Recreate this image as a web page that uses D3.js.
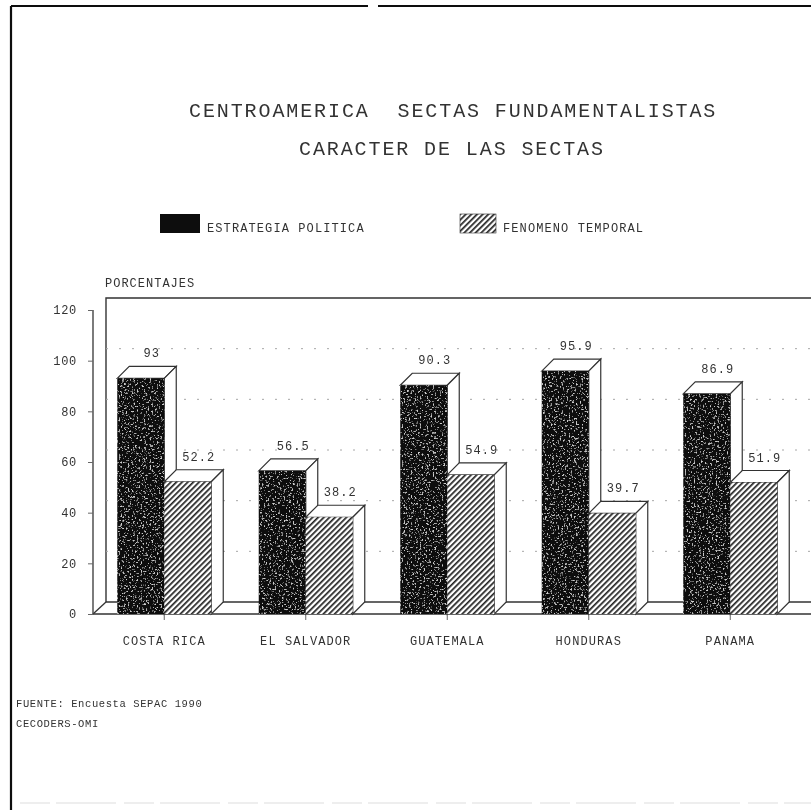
<!DOCTYPE html>
<html>
<head>
<meta charset="utf-8">
<script src="https://cdn.jsdelivr.net/npm/d3@7"></script>
<style>
  html, body { margin: 0; background: #fff; overflow: hidden; }
  text { font-family: "Liberation Mono", monospace; fill: #333; }
  .grid line { stroke: #a8a8a8; stroke-dasharray: 2 11; }
  .yaxis .domain, .xaxis .domain { display: none; }
  .yaxis line, .xaxis line { stroke: #666; }
</style>
</head>
<body>
<svg id="chart" width="811" height="810"></svg>
<script>
const categories = ['COSTA RICA', 'EL SALVADOR', 'GUATEMALA', 'HONDURAS', 'PANAMA'];
const seriesNames = ['ESTRATEGIA POLITICA', 'FENOMENO TEMPORAL'];
const politica = [93, 56.5, 90.3, 95.9, 86.9];
const temporal = [52.2, 38.2, 54.9, 39.7, 51.9];
const politicaLabels = ['93', '56.5', '90.3', '95.9', '86.9'];
const temporalLabels = ['52.2', '38.2', '54.9', '39.7', '51.9'];
const yTicks = [0, 20, 40, 60, 80, 100, 120];
const titleLines = ['CENTROAMERICA  SECTAS FUNDAMENTALISTAS', 'CARACTER DE LAS SECTAS'];
const sourceLines = ['FUENTE: Encuesta SEPAC 1990', 'CECODERS-OMI'];

const width = 811, height = 810;
const depth = 12;
const axisX = 93, floorY = 614, topY = 310;

const svg = d3.select('#chart');
const defs = svg.append('defs');

// scan look: soft blur over everything
defs.append('filter').attr('id', 'scan').attr('filterUnits', 'userSpaceOnUse')
  .attr('x', 0).attr('y', 0).attr('width', width).attr('height', height)
  .append('feGaussianBlur').attr('stdDeviation', 0.55);

// speckled toner for the dark bars
const speck = defs.append('filter').attr('id', 'speck').attr('x', 0).attr('y', 0).attr('width', 1).attr('height', 1);
speck.append('feTurbulence').attr('type', 'fractalNoise').attr('baseFrequency', 0.55).attr('numOctaves', 2).attr('seed', 4).attr('result', 'n');
speck.append('feColorMatrix').attr('in', 'n').attr('type', 'matrix')
  .attr('values', '0 0 0 0 0.62  0 0 0 0 0.62  0 0 0 0 0.62  6 0 0 0 -3.5').attr('result', 'dots');
speck.append('feComposite').attr('in', 'dots').attr('in2', 'SourceAlpha').attr('operator', 'in').attr('result', 'clipped');
const speckMerge = speck.append('feMerge');
speckMerge.append('feMergeNode').attr('in', 'SourceGraphic');
speckMerge.append('feMergeNode').attr('in', 'clipped');

const hatch = defs.append('pattern').attr('id', 'hatch').attr('patternUnits', 'userSpaceOnUse')
  .attr('width', 4).attr('height', 4).attr('patternTransform', 'rotate(45)');
hatch.append('rect').attr('width', 4).attr('height', 4).attr('fill', '#fff');
hatch.append('rect').attr('width', 1.7).attr('height', 4).attr('fill', '#222');

const root = svg.append('g').attr('filter', 'url(#scan)');

// scales
const x = d3.scaleBand().domain(categories).range([93.5, 801]);
const inner = d3.scaleBand().domain(seriesNames).range([x.bandwidth() / 2 - 47, x.bandwidth() / 2 + 47]);
const y = d3.scaleLinear().domain([0, 120]).range([floorY, topY]);

// page frame
root.append('line').attr('x1', 11).attr('x2', 11).attr('y1', 6).attr('y2', height).attr('stroke', '#111').attr('stroke-width', 2.2);
root.append('line').attr('x1', 11).attr('x2', 368).attr('y1', 6).attr('y2', 6).attr('stroke', '#111').attr('stroke-width', 1.8);
root.append('line').attr('x1', 378).attr('x2', width).attr('y1', 6).attr('y2', 6).attr('stroke', '#111').attr('stroke-width', 1.8);
root.append('line').attr('x1', 20).attr('x2', width).attr('y1', 803).attr('y2', 803)
  .attr('stroke', '#ddd').attr('stroke-dasharray', '30 6 60 8');

// titles
root.selectAll('.title').data(titleLines).join('text').attr('class', 'title')
  .attr('x', (d, i) => i === 0 ? 189 : 299)
  .attr('y', (d, i) => 117 + i * 38)
  .attr('font-size', 20).attr('letter-spacing', 1.9)
  .style('white-space', 'pre')
  .text(d => d);

// legend
const legendX = [160, 460], legendW = [40, 36], legendText = [207, 503];
root.selectAll('.swatch').data(seriesNames).join('rect').attr('class', 'swatch')
  .attr('x', (d, i) => legendX[i]).attr('y', 214)
  .attr('width', (d, i) => legendW[i]).attr('height', 19)
  .attr('fill', (d, i) => i === 0 ? '#0c0c0c' : 'url(#hatch)')
  .attr('stroke', (d, i) => i === 0 ? 'none' : '#333').attr('stroke-width', 0.6);
root.selectAll('.legend').data(seriesNames).join('text').attr('class', 'legend')
  .attr('x', (d, i) => legendText[i]).attr('y', 232)
  .attr('font-size', 12).attr('letter-spacing', 1.1)
  .text(d => d);

root.append('text').attr('x', 105).attr('y', 287).attr('font-size', 12).attr('letter-spacing', 1).text('PORCENTAJES');

// back wall and floor
const wallX = axisX + depth + 1, wallTop = y(120) - depth;
root.append('path').attr('fill', 'none').attr('stroke', '#333').attr('stroke-width', 1.4)
  .attr('d', `M${wallX},${floorY - depth}V${wallTop}H${width}`);
root.append('line').attr('x1', wallX).attr('x2', width).attr('y1', floorY - depth).attr('y2', floorY - depth).attr('stroke', '#333').attr('stroke-width', 1.3);
root.append('line').attr('x1', axisX).attr('x2', wallX).attr('y1', floorY).attr('y2', floorY - depth).attr('stroke', '#333').attr('stroke-width', 1.3);
root.append('line').attr('x1', axisX).attr('x2', width).attr('y1', floorY).attr('y2', floorY).attr('stroke', '#333').attr('stroke-width', 1.3);
root.append('line').attr('x1', axisX).attr('x2', axisX).attr('y1', y(120)).attr('y2', floorY).attr('stroke', '#444').attr('stroke-width', 1.4);

// grid on the back wall
root.append('g').attr('class', 'grid').selectAll('line').data(yTicks.filter(d => d > 0 && d < 120)).join('line')
  .attr('x1', wallX).attr('x2', width)
  .attr('y1', d => y(d) - depth).attr('y2', d => y(d) - depth);

// axes
const yAxis = d3.axisLeft(y).tickValues(yTicks).tickSize(5).tickPadding(11);
root.append('g').attr('class', 'yaxis').attr('transform', `translate(${axisX},0)`).call(yAxis)
  .selectAll('text').attr('font-size', 12).attr('letter-spacing', 0.7).style('font-family', '"Liberation Mono", monospace').style('fill', '#333');

const xAxis = d3.axisBottom(x).tickSize(6).tickPadding(16);
root.append('g').attr('class', 'xaxis').attr('transform', `translate(0,${floorY})`).call(xAxis)
  .selectAll('text').attr('font-size', 12).attr('letter-spacing', 1.1).style('font-family', '"Liberation Mono", monospace').style('fill', '#333');

// 3d bars, dark one first so the hatched bar sits over its side panel
const rows = [];
categories.forEach((c, i) => {
  rows.push({ cat: c, series: seriesNames[0], value: politica[i], label: politicaLabels[i], dark: true });
  rows.push({ cat: c, series: seriesNames[1], value: temporal[i], label: temporalLabels[i], dark: false });
});

const bar = root.selectAll('.bar').data(rows).join('g').attr('class', 'bar')
  .attr('transform', d => `translate(${x(d.cat) + inner(d.series)},${y(d.value)})`);
const bw = inner.bandwidth();

bar.append('path').attr('fill', '#fff').attr('stroke', '#333').attr('stroke-width', 1.2)
  .attr('d', d => `M0,0L${depth},${-depth}H${bw + depth}L${bw},0Z`);
bar.append('path').attr('fill', '#fff').attr('stroke', '#333').attr('stroke-width', 1.2)
  .attr('d', d => `M${bw},0L${bw + depth},${-depth}V${y(0) - y(d.value) - depth}L${bw},${y(0) - y(d.value)}Z`);
bar.append('rect').attr('width', bw).attr('height', d => y(0) - y(d.value))
  .attr('fill', d => d.dark ? '#0c0c0c' : 'url(#hatch)')
  .attr('filter', d => d.dark ? 'url(#speck)' : null);

root.selectAll('.val').data(rows).join('text').attr('class', 'val')
  .attr('x', d => x(d.cat) + inner(d.series) + bw / 2 + 11)
  .attr('y', d => y(d.value) - depth - 9)
  .attr('text-anchor', 'middle').attr('font-size', 12).attr('letter-spacing', 1)
  .text(d => d.label);

// source note
root.selectAll('.src').data(sourceLines).join('text').attr('class', 'src')
  .attr('x', 16).attr('y', (d, i) => 707 + i * 20)
  .attr('font-size', 10.5).attr('letter-spacing', 0.6)
  .text(d => d);
</script>
</body>
</html>
